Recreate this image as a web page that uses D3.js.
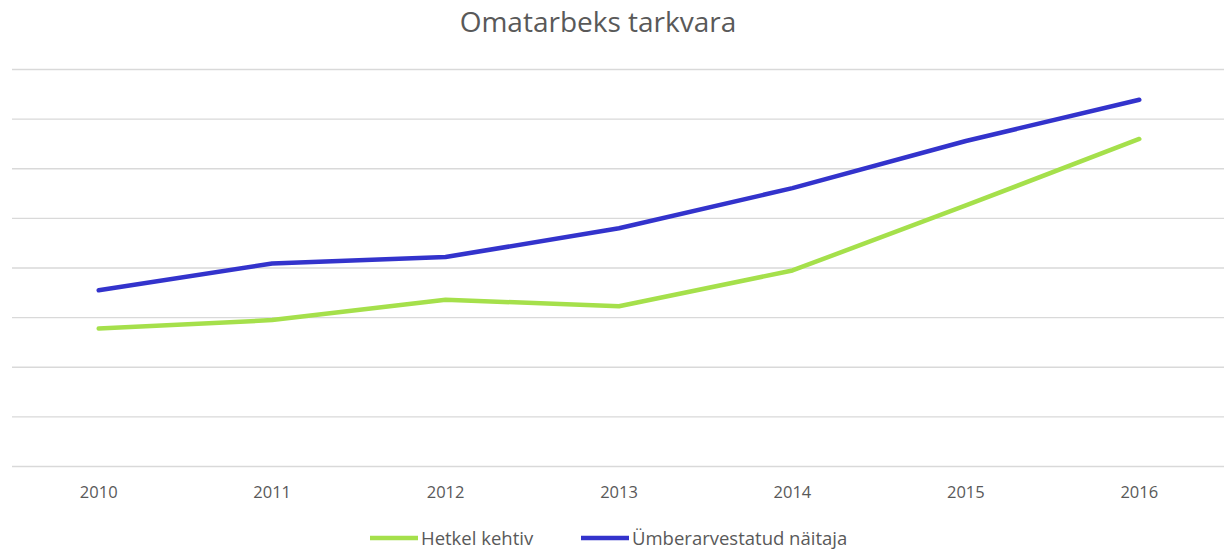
<!DOCTYPE html>
<html>
<head>
<meta charset="utf-8">
<script src="https://cdn.jsdelivr.net/npm/d3@7"></script>
<style>
    body { margin: 0; background: #fff; }
    text { font-family: "Open Sans", sans-serif; fill: #595959; }
</style>
</head>
<body>
<div id="chart"></div>
<script>
var years = ["2010", "2011", "2012", "2013", "2014", "2015", "2016"];
var hetkel_kehtiv = [2.77, 2.94, 3.35, 3.22, 3.94, 5.25, 6.59];
var umberarvestatud = [3.54, 4.08, 4.21, 4.79, 5.60, 6.55, 7.38];
var grid_values = [0, 1, 2, 3, 4, 5, 6, 7, 8];
var series_names = ["Hetkel kehtiv", "Ümberarvestatud näitaja"];
var series_colors = ["#a5e04b", "#3333cc"];

var width = 1224, height = 550;
var margin = {top: 69, right: -2, bottom: 84, left: 12};

var svg = d3.select("#chart").append("svg")
    .attr("width", width)
    .attr("height", height);

var x = d3.scaleBand().domain(years).range([margin.left, width - margin.right]);
var y = d3.scaleLinear().domain([0, 8]).range([height - margin.bottom, margin.top]);

// title
svg.append("text")
    .attr("x", 598)
    .attr("y", 32)
    .attr("text-anchor", "middle")
    .attr("font-size", "28px")
    .text("Omatarbeks tarkvara");

// gridlines
svg.selectAll(".grid")
    .data(grid_values)
    .enter()
    .append("line")
        .attr("x1", margin.left)
        .attr("x2", width - margin.right)
        .attr("y1", function(d) { return y(d) + 0.5; })
        .attr("y2", function(d) { return y(d) + 0.5; })
        .style("stroke", "#d9d9d9")
        .style("stroke-width", "1.3px");

// x axis labels
var x_axis = svg.append("g")
    .attr("transform", "translate(0," + y(0) + ")")
    .call(d3.axisBottom(x).tickSize(0).tickPadding(20));
x_axis.select(".domain").remove();
x_axis.selectAll("text")
    .attr("font-size", "16.5px")
    .attr("font-family", "Open Sans, sans-serif")
    .style("fill", "#595959");

var all_series = [hetkel_kehtiv, umberarvestatud];
var line = d3.line()
    .x(function(d, i) { return x(years[i]) + x.bandwidth() / 2; })
    .y(function(d) { return y(d); });

all_series.forEach(function(values, k) {
    svg.append("path")
        .datum(values)
        .attr("fill", "none")
        .style("stroke", series_colors[k])
        .style("stroke-width", "4.5px")
        .style("stroke-linecap", "round")
        .style("stroke-linejoin", "round")
        .attr("d", line);
});

// legend
var legend_starts = [370, 581];
series_names.forEach(function(name, k) {
    var g = svg.append("g").attr("transform", "translate(" + legend_starts[k] + ",538)");
    g.append("line")
        .attr("x1", 0).attr("x2", 48)
        .attr("y1", 0).attr("y2", 0)
        .style("stroke", series_colors[k])
        .style("stroke-width", "4.5px");
    g.append("text")
        .attr("x", 51)
        .attr("y", 6.5)
        .attr("font-size", "18.5px")
        .text(name);
});
</script>
</body>
</html>
